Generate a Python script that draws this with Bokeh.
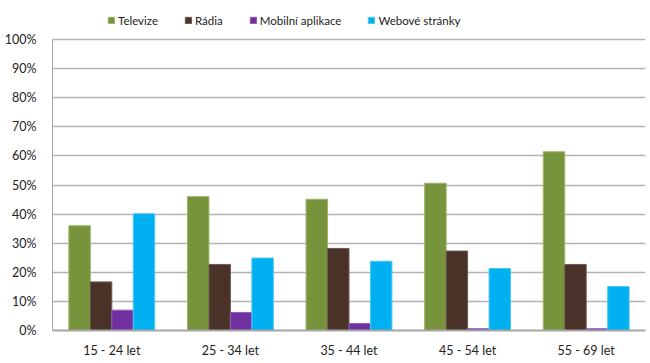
from bokeh.plotting import figure
from bokeh.models import FactorRange, Range1d, Legend, LegendItem, FixedTicker
from bokeh.transform import dodge
from bokeh.embed import file_html
from bokeh.resources import INLINE
from bokeh.models import ColumnDataSource

groups = ["15 - 24 let", "25 - 34 let", "35 - 44 let", "45 - 54 let", "55 - 69 let"]
series = ["Televize", "Rádia", "Mobilní aplikace", "Webové stránky"]
televize = [36.0, 46.0, 45.1, 50.6, 61.4]
radia = [16.7, 22.7, 28.2, 27.3, 22.7]
mobil = [7.0, 6.2, 2.4, 0.6, 0.6]
web = [40.1, 24.9, 23.8, 21.3, 15.1]
colors = ["#77933C", "#4A3228", "#7030A0", "#00B0F0"]
edges = ["#9BB565", "#6E5A50", "#8F5CB8", "#4CC8F4"]
yticks = [0, 10, 20, 30, 40, 50, 60, 70, 80, 90, 100]

src = ColumnDataSource(dict(g=groups, tv=televize, ra=radia, mo=mobil, we=web))

# frame spans the full height above the x axis; 100% sits 39px below the top
ytop = 100 * 330 / 291
p = figure(width=650, height=363, x_range=FactorRange(factors=groups, range_padding=0),
           y_range=Range1d(0, ytop), output_backend="svg", toolbar_location=None,
           min_border_left=52, min_border_right=5, min_border_top=0, min_border_bottom=33)
p.outline_line_color = None
p.background_fill_color = "white"

bw = 0.181
offs = [-1.5 * bw, -0.5 * bw, 0.5 * bw, 1.5 * bw]
renderers = []
for key, off, c, e in zip(["tv", "ra", "mo", "we"], offs, colors, edges):
    r = p.vbar(x=dodge("g", off, range=p.x_range), top=key, width=bw, bottom=0,
               source=src, fill_color=c, line_color=e, line_width=1)
    renderers.append(r)

p.yaxis.ticker = FixedTicker(ticks=yticks)
p.yaxis.bounds = (0, 100)
p.yaxis.major_label_overrides = {v: f"{v}%" for v in yticks}
p.yaxis.major_tick_line_color = None
p.yaxis.minor_tick_line_color = None
p.yaxis.axis_line_color = "#A6A6A6"
p.yaxis.major_label_standoff = 10
p.yaxis.major_label_text_font = "Lato"
p.yaxis.major_label_text_font_size = "12.5px"
p.yaxis.major_label_text_color = "#222222"

p.xaxis.major_tick_line_color = None
p.xaxis.axis_line_color = "#A6A6A6"
p.xaxis.axis_line_width = 2
p.xaxis.major_label_standoff = 6
p.xaxis.major_label_text_font = "Lato"
p.xaxis.major_label_text_font_size = "12.5px"
p.xaxis.major_label_text_color = "#222222"

p.xgrid.grid_line_color = None
p.ygrid.grid_line_color = "#B3B3B3"
p.ygrid.grid_line_width = 1.5

legend = Legend(items=[LegendItem(label=s, renderers=[r]) for s, r in zip(series, renderers)],
                orientation="horizontal", location=(55, 302), padding=0, margin=0,
                spacing=26, glyph_width=8, glyph_height=8, label_standoff=3,
                label_text_font="Lato", label_text_font_size="11.5px", label_height=16,
                label_text_color="#222222",
                border_line_color=None, background_fill_alpha=0)
p.add_layout(legend, "center")

open("out.html", "w").write(file_html(p, INLINE))
